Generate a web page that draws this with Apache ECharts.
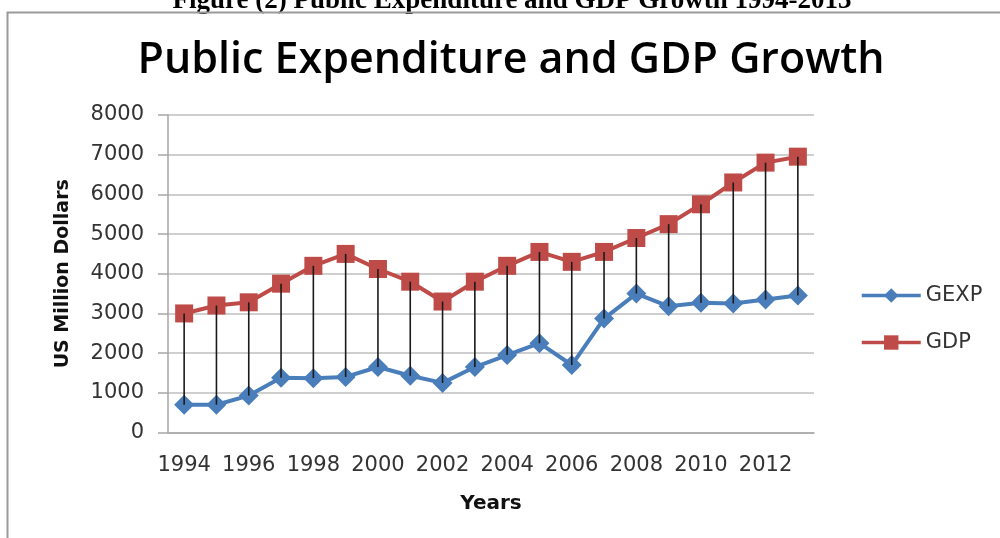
<!DOCTYPE html>
<html>
<head>
<meta charset="utf-8">
<script src="https://cdn.jsdelivr.net/npm/echarts@6/dist/echarts.min.js"></script>
<style>
html,body{margin:0;padding:0;background:#fff;}
#chart{width:1000px;height:538px;}
</style>
</head>
<body>
<div id="chart"></div>
<script>
const years = ['1994','1995','1996','1997','1998','1999','2000','2001','2002','2003','2004','2005','2006','2007','2008','2009','2010','2011','2012','2013'];
const gexp = [700,700,930,1380,1370,1400,1650,1430,1250,1650,1950,2250,1700,2870,3500,3180,3270,3250,3350,3450];
const gdp = [3000,3200,3280,3750,4200,4500,4120,3800,3300,3800,4200,4550,4300,4550,4900,5250,5750,6300,6800,6950];
const yTicks = [0,1000,2000,3000,4000,5000,6000,7000,8000];

const chart = echarts.init(document.getElementById('chart'), null, {renderer:'canvas'});
const labelFont = 'DejaVu Sans';
const option = {
  animation:false,
  backgroundColor:'#fff',
  graphic:[
    {type:'text', x:512, y:15, z:1, style:{text:'Figure (2) Public Expenditure and GDP Growth 1994-2013', font:'bold 27px "Liberation Serif"', fill:'#000', align:'center', verticalAlign:'bottom'}},
    {type:'rect', z:2, shape:{x:7.5, y:12.5, width:1010, height:540}, style:{fill:'none', stroke:'#9a9a9a', lineWidth:2}},
    {type:'text', x:511, y:61, style:{text:'Public Expenditure and GDP Growth', font:'600 43px "Open Sans"', fill:'#000', align:'center', verticalAlign:'middle'}}
  ],
  legend:{
    orient:'vertical', left:855, top:280, itemWidth:59, itemHeight:18, itemGap:26,
    textStyle:{fontFamily:labelFont, fontSize:21, color:'#333'},
    lineStyle:{width:3.5},
    data:['GEXP','GDP']
  },
  grid:{left:168, right:186, top:115, bottom:105.5, containLabel:false},
  xAxis:{
    type:'category', data:years, boundaryGap:true,
    name:'Years', nameLocation:'middle', nameGap:61,
    nameTextStyle:{fontFamily:labelFont, fontWeight:'bold', fontSize:20, color:'#111'},
    axisLine:{lineStyle:{color:'#a6a6a6', width:1.5}},
    axisTick:{show:false},
    axisLabel:{interval:1, margin:23, fontFamily:labelFont, fontSize:21, color:'#333'}
  },
  yAxis:{
    type:'value', min:0, max:8000, interval:1000,
    name:'US Million Dollars', nameLocation:'middle', nameGap:95, nameRotate:90,
    nameTextStyle:{fontFamily:labelFont, fontWeight:'bold', fontSize:19, color:'#111'},
    axisLine:{show:true, lineStyle:{color:'#a6a6a6', width:1.5}},
    axisTick:{show:true, length:10, lineStyle:{color:'#a6a6a6', width:1.5}},
    splitLine:{lineStyle:{color:'#bfbfbf', width:1.5}},
    axisLabel:{margin:24, fontFamily:labelFont, fontSize:21, color:'#333',
      formatter:function(v){ return yTicks.indexOf(v) >= 0 ? String(v) : ''; }}
  },
  series:[
    {name:'GEXP', type:'line', data:gexp, symbol:'diamond', symbolSize:20, z:2,
      lineStyle:{color:'#4A7EBB', width:4}, itemStyle:{color:'#4A7EBB'}},
    {name:'GDP', type:'line', data:gdp, symbol:'rect', symbolSize:18, z:2,
      lineStyle:{color:'#BE4B48', width:4}, itemStyle:{color:'#BE4B48'}},
    {name:'hilo', type:'custom', z:5, silent:true,
      data: years.map(function(y,i){ return [i, gexp[i], gdp[i]]; }),
      encode:{x:0, y:[1,2]},
      renderItem:function(params, api){
        const p1 = api.coord([api.value(0), api.value(1)]);
        const p2 = api.coord([api.value(0), api.value(2)]);
        return {type:'line', shape:{x1:p1[0], y1:p1[1], x2:p2[0], y2:p2[1]}, style:{stroke:'#1a1a1a', lineWidth:1.6}};
      }
    }
  ]
};
chart.setOption(option);
</script>
</body>
</html>
